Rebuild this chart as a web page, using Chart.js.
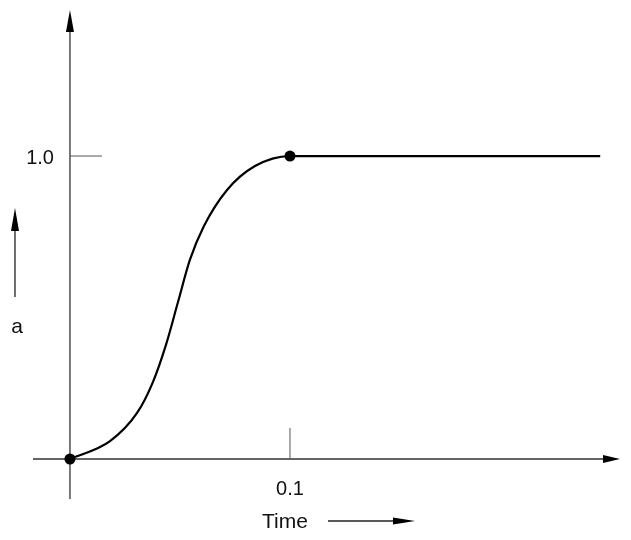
<!DOCTYPE html>
<html lang="en">
<head>
    <meta charset="UTF-8">
    <title>Response a over Time</title>
    <style>
        html, body { margin: 0; padding: 0; background: #fff; }
        .chart-container { position: relative; width: 631px; height: 540px; }
    </style>
</head>
<body>
    <div class="chart-container">
        <canvas id="stepChart"></canvas>
    </div>

    <script src="https://cdn.jsdelivr.net/npm/chart.js"></script>
    <script>
        // Curve (time, a)
        const curveTime = [0, 0.0182, 0.0305, 0.0377, 0.0436, 0.0491, 0.0545, 0.0609, 0.0714, 0.0841, 0.1, 0.241];
        const curveA = [0, 0.059, 0.152, 0.254, 0.376, 0.518, 0.657, 0.769, 0.888, 0.967, 1.0, 1.0];

        // Marked points
        const markerTime = [0, 0.1];
        const markerA = [0, 1.0];

        // Ticks
        const xTickValues = [0.1];
        const xTickLabels = ['0.1'];
        const yTickValues = [1.0];
        const yTickLabels = ['1.0'];

        const xAxisTitle = 'Time';
        const yAxisTitle = 'a';

        const toPoints = (xs, ys) => xs.map((x, i) => ({ x: x, y: ys[i] }));

        const FAMILY = '"Liberation Sans", Arial, sans-serif';

        function arrowHead(ctx, tipX, tipY, dx, dy, len, half) {
            // dx, dy: unit direction of the arrow
            const bx = tipX - dx * len, by = tipY - dy * len;
            ctx.beginPath();
            ctx.moveTo(tipX, tipY);
            ctx.lineTo(bx - dy * half, by + dx * half);
            ctx.lineTo(bx + dy * half, by - dx * half);
            ctx.closePath();
            ctx.fill();
        }

        // Draws the axes with arrows, the ticks and the text labels
        const diagramPlugin = {
            id: 'diagram',
            beforeDatasetsDraw(chart) {
                const ctx = chart.ctx;
                const xs = chart.scales.x, ys = chart.scales.y;
                const x0 = xs.getPixelForValue(0);
                const y0 = ys.getPixelForValue(0);
                ctx.save();

                // axes
                ctx.strokeStyle = '#333';
                ctx.fillStyle = '#000';
                ctx.lineWidth = 1.3;
                ctx.beginPath();
                ctx.moveTo(xs.left, y0);
                ctx.lineTo(xs.right - 10, y0);
                ctx.moveTo(x0, ys.bottom);
                ctx.lineTo(x0, ys.top + 10);
                ctx.stroke();
                arrowHead(ctx, xs.right, y0, 1, 0, 17, 4);
                arrowHead(ctx, x0, ys.top, 0, -1, 22, 4);

                // ticks
                ctx.strokeStyle = '#555';
                ctx.lineWidth = 1;
                ctx.beginPath();
                xTickValues.forEach(v => {
                    const px = xs.getPixelForValue(v);
                    ctx.moveTo(px, y0);
                    ctx.lineTo(px, y0 - 31);
                });
                yTickValues.forEach(v => {
                    const py = ys.getPixelForValue(v);
                    ctx.moveTo(x0, py);
                    ctx.lineTo(x0 + 32, py);
                });
                ctx.stroke();

                // tick labels
                ctx.font = '20px ' + FAMILY;
                ctx.fillStyle = '#111';
                ctx.textBaseline = 'alphabetic';
                ctx.textAlign = 'center';
                xTickValues.forEach((v, i) => {
                    ctx.fillText(xTickLabels[i], xs.getPixelForValue(v), y0 + 36);
                });
                ctx.textAlign = 'right';
                yTickValues.forEach((v, i) => {
                    ctx.fillText(yTickLabels[i], x0 - 16, ys.getPixelForValue(v) + 8);
                });

                // axis titles with their arrows
                ctx.font = '21px ' + FAMILY;
                ctx.textAlign = 'center';
                ctx.fillText(xAxisTitle, 285, y0 + 69);
                ctx.fillText(yAxisTitle, 17, 333);

                ctx.strokeStyle = '#222';
                ctx.fillStyle = '#000';
                ctx.lineWidth = 1.3;
                ctx.beginPath();
                ctx.moveTo(328, y0 + 62);
                ctx.lineTo(400, y0 + 62);
                ctx.moveTo(15, 297);
                ctx.lineTo(15, 220);
                ctx.stroke();
                arrowHead(ctx, 415, y0 + 62, 1, 0, 22, 3.5);
                arrowHead(ctx, 15, 208, 0, -1, 23, 4);

                ctx.restore();
            }
        };

        const stepCtx = document.getElementById('stepChart').getContext('2d');
        new Chart(stepCtx, {
            type: 'scatter',
            data: {
                datasets: [{
                    data: toPoints(curveTime, curveA),
                    showLine: true,
                    borderColor: '#000',
                    borderWidth: 2.2,
                    pointRadius: 0,
                    cubicInterpolationMode: 'monotone'
                }, {
                    data: toPoints(markerTime, markerA),
                    showLine: false,
                    pointRadius: 5.5,
                    pointBackgroundColor: '#000',
                    pointBorderColor: '#000',
                    pointBorderWidth: 0
                }]
            },
            options: {
                responsive: true,
                maintainAspectRatio: false,
                animation: false,
                layout: { padding: { left: 33, right: 11, top: 10, bottom: 41 } },
                plugins: {
                    legend: { display: false },
                    tooltip: { enabled: false }
                },
                scales: {
                    x: { type: 'linear', display: false, min: -0.0168, max: 0.25 },
                    y: { type: 'linear', display: false, min: -0.132, max: 1.482 }
                }
            },
            plugins: [diagramPlugin]
        });
    </script>
</body>
</html>
